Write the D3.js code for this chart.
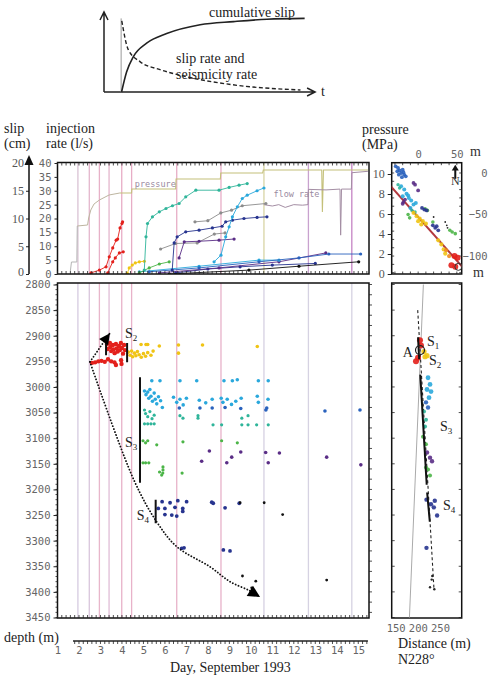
<!DOCTYPE html>
<html>
<head>
<meta charset="utf-8">
<script src="https://cdn.jsdelivr.net/npm/d3@7"></script>
<style>
  body { margin: 0; background: #fff; }
  svg { display: block; }
</style>
</head>
<body>
<div id="chart"></div>
<script>
// ---------- data ----------
// schematic: [time, normalised value]
const cumSlip = [[0.84,0],[1.08,0.25],[1.4,0.44],[2.04,0.61],[3.0,0.73],[4.6,0.84],[6.2,0.88],[7.8,0.91],[9.6,0.92]];
const slipRate = [[0.85,0.89],[1.16,0.53],[1.72,0.38],[2.68,0.28],[3.96,0.19],[6.17,0.09],[9.4,0.025]];

// days of injection changes (vertical lines)
const markerDays = [1.95, 2.48, 2.95, 3.40, 3.99, 4.45, 6.55, 8.61, 10.61, 12.68, 14.70];

// wellhead pressure (MPa) and flow rate (l/s)
const pressureDays = [1.6,1.65,1.9,1.92,2.4,2.45,2.55,2.7,2.95,3.4,3.9,4.45,4.46,6.5,6.52,8.58,8.6,10.55,10.58,13.3,13.33,13.38,15.45];
const pressureMPa  = [0.3,1.2,1.2,4.8,4.9,5.6,6.4,7.0,7.4,7.9,8.1,8.1,8.5,8.5,9.5,9.5,10.1,10.1,10.4,10.4,6.2,10.4,10.4];
const flowDays = [10.6,11.0,11.3,11.6,12.0,12.4,12.66,12.68,13.5,14.15,14.18,14.22,14.68,14.7,15.45];
const flowRate = [25,24.5,25,24,25,24.8,25,30.5,30.3,30.6,14,30.6,30.6,36.5,37];

// cumulative slip of event families: [day, slip cm]
const slipRed1 = [[2.56,0.2],[2.95,0.7],[3.26,1.3],[3.41,3.1],[3.57,4.7],[3.73,6.1],[3.8,6.3],[3.91,8.3],[4.0,9.1],[4.03,9.4]];
const slipRed2 = [[3.34,0.2],[3.57,2.2],[3.69,2.9],[3.88,3.8],[4.06,4.0]];
const slipYellow = [[4.25,0.1],[4.34,1.1],[4.48,1.6],[4.62,2.0],[4.81,2.2],[5.04,2.3]];
const slipGreen = [[4.81,0.2],[5.27,1.1],[5.74,1.8],[6.2,2.2]];
const slipTeal = [[5.04,0.7],[5.12,6.7],[5.19,9.1],[5.42,10.3],[5.74,11.2],[6.05,11.8],[6.35,12.3],[6.66,12.7],[6.97,13.9],[7.44,15.1],[8.52,15.1],[8.99,15.6],[9.45,16.0],[9.83,16.3]];
const slipCyan = [[8.29,2.2],[8.61,3.4],[8.83,6.7],[8.99,8.5],[9.14,10.3],[9.37,12.1],[9.6,13.6],[9.83,14.2],[10.29,15.0],[10.61,15.5]];
const slipBlue = [[6.34,0.7],[6.43,5.6],[6.57,6.7],[6.97,7.6],[7.59,7.9],[8.21,8.3],[8.66,8.6],[8.83,9.4],[9.14,9.7],[9.68,10.0],[10.29,10.2],[10.75,10.3]];
const slipPurple = [[6.66,2.9],[6.9,5.8],[7.59,5.9],[8.52,6.1],[9.22,6.3]];
const slipGrayA = [[7.4,9.4],[8.0,9.6],[8.6,11.0],[9.1,11.5],[9.6,12.3],[10.7,12.7]];
const slipGrayB = [[5.8,4.5],[6.5,5.5],[7.5,5.6],[8.3,7.2],[8.8,7.4]];
const slipLow1 = [[5.27,0.4],[7.59,1.1],[10.38,2.2],[12.24,2.9],[13.63,3.6],[15.11,3.6]];
const slipLow2 = [[5.74,0.2],[8.52,1.1],[11.31,2.2],[13.49,3.8]];
const slipLow3 = [[6.2,0],[9.91,0.7],[12.24,1.4],[15.02,2.2]];
const slipLow4 = [[4.81,0.4],[7.59,1.4],[10.38,2.5],[11.31,2.5]];
const slipLow5 = [[6.5,0.2],[8.0,0.9],[9.5,1.3],[11.0,1.6],[13.0,1.9]];

// seismic events, [day, depth m]
const evRed = [[3.30,2916],[3.33,2926],[3.44,2914],[3.46,2922],[3.5,2930],[3.58,2918],[3.6,2927],[3.66,2934],[3.72,2916],[3.75,2925],[3.8,2931],[3.86,2920],[3.9,2928],[3.95,2914],[4.0,2924],[4.05,2935],[4.1,2918],[4.14,2928],
  [2.6,2953],[2.75,2952],[2.9,2950],[3.05,2949],[3.2,2951],[3.35,2946],[3.5,2950],[3.65,2952],[3.72,2957],[3.98,2955],[3.96,2948]];
const evYellow = [[4.3,2932],[4.38,2938],[4.45,2930],[4.5,2941],[4.58,2934],[4.65,2939],[4.72,2931],[4.8,2937],[4.9,2942],[5.0,2935],[5.1,2940],[5.2,2933],[5.35,2938],[5.45,2930],
  [4.89,2917],[5.12,2917],[5.74,2920],[6.63,2918],[6.63,2934],[7.75,2918],[10.3,2921],[5.2,2917]];
const evCyan = [[5.39,2988],[5.77,2988],[6.70,2988],[7.48,2988],[8.75,2988],[9.14,2988],[9.37,2986],[10.35,2988],[10.81,2988],
  [5.05,3008],[5.12,3015],[5.2,3010],[5.25,3022],[5.3,3005],[5.35,3018],[5.42,3028],[5.5,3012],[5.55,3024],[5.62,3033],[5.7,3019],[5.8,3027],[5.88,3040],
  [6.4,3020],[6.55,3030],[6.7,3024],[6.85,3035],[7.0,3022],[7.6,3026],[7.9,3031],[8.2,3024],[8.62,3022],[8.7,3030],[8.9,3024],[9.1,3034],[9.3,3028],[9.55,3022],[10.3,3018],[10.35,3030],[10.8,3024]];
const evBlue = [[6.67,3041],[7.63,3041],[8.2,3041],[8.8,3040],[9.53,3042],[10.74,3041],[10.7,3045],[13.45,3047],[15.08,3045]];
const evTeal = [[5.05,3072],[5.2,3072],[5.35,3072],[5.5,3072],[6.7,3056],[6.84,3061],[7.54,3056],[7.54,3061],[8.24,3074],[8.64,3074],[9.58,3061],[9.58,3074],[9.87,3056],[9.87,3074],[10.27,3074],[10.81,3074],
  [5.05,3045],[5.1,3052],[5.2,3058],[5.3,3048],[5.4,3062],[5.5,3055]];
const evGreen = [[4.98,3105],[5.1,3109],[5.2,3105],[5.62,3113],[6.84,3107],[8.64,3105],[9.37,3109],[4.98,3148],[5.1,3148],[5.25,3148],[5.91,3156],[5.91,3162],[5.9,3168],[5.85,3172],[6.8,3168],[5.75,3166]];
const evPurple = [[7.71,3145],[8.07,3125],[8.88,3148],[9.11,3137],[9.53,3127],[10.69,3128],[10.81,3148],[11.33,3129],[13.53,3137],[15.12,3152]];
const evNavy = [[5.87,3224],[6.24,3226],[6.60,3222],[7.01,3224],[5.69,3237],[6.0,3237],[6.47,3235],[6.83,3237],[6.0,3249],[6.32,3250],[6.55,3252],[6.83,3243],
  [8.18,3225],[8.25,3227],[8.80,3236],[9.46,3227],[6.78,3315],[6.89,3314],[8.72,3318],[9.03,3320]];
const evBlack = [[9.50,3226],[10.62,3226],[11.48,3249],[9.61,3369],[10.23,3379],[10.04,3392],[13.53,3377]];

// migration arrows and segment bars, [day, depth]
const arrowUp = [[2.51,2951],[3.44,2895]];
const arrowDown = [[2.51,2951],[4.56,3182],[5.63,3264],[6.56,3312],[8.10,3351],[9.03,3380],[9.96,3398],[10.43,3410]];
const barsMain = [[3.26,2914,2938],[4.24,2914,2952],[4.84,2981,3187],[5.57,3220,3266]];
const labelsMain = [['2',4.14,2904],['3',4.14,3117],['4',4.69,3259]];

// map view, [east m, north m]
const mapBlue = [[-29,8],[-26,6],[-24,3],[-20,4],[-22,0],[-18,-2],[-16,-4],[-25,-2],[-21,-5],[-27,2],[-19,1]];
const mapPurple = [[-6,-12],[-4,-14],[0,-21],[-19,-35],[-17,-32],[-20,-37]];
const mapCyan = [[-22,-16],[-18,-20],[-15,-25],[-20,-28],[-13,-27],[-9,-33],[-6,-38],[-10,-42],[-3,-36],[-12,-30]];
const mapTeal = [[-26,-14],[-24,-18],[-8,-45],[-4,-47]];
const mapGreen = [[-13,-50],[-11,-54],[9,-43],[12,-45],[19,-59],[41,-69],[44,-71],[48,-73]];
const mapNavy = [[5,-42],[8,-44],[11,-45],[19,-63],[22,-66],[26,-69],[24,-64]];
const mapYellow = [[-6,-48],[-2,-52],[2,-55],[6,-58],[10,-61],[0,-58],[4,-62],[26,-81],[30,-86],[33,-92],[35,-97]];
const mapOrange = [[36,-93],[40,-100]];
const mapRed = [[47,-100],[51,-102],[43,-111],[48,-113]];
const mapBlack = [[35,-59],[37,-63],[38,-66],[20,-53]];
const mapFault = [[-40,-11],[62,-118]];

// cross-section, [distance m, depth m]
const secRed = [[204.9,2909],[207.1,2919],[195.8,2950],[200.4,2943]];
const secYellow = [[213.9,2931],[220.7,2939],[216.2,2941]];
const secCyan = [[223,2982],[227.5,2995],[229.7,3009],[225.2,3021],[220.7,3005]];
const secBlue = [[218.4,3030],[223,3040]];
const secTeal = [[213.9,3048],[218.4,3064],[216.2,3077]];
const secGreen = [[211.7,3097],[218.4,3112],[223,3161],[227.5,3173],[218.4,3157]];
const secPurple = [[220.7,3128],[227.5,3138],[232,3145]];
const secNavy = [[219.5,3220],[238.3,3222],[236.1,3235],[243.5,3251],[219.5,3314],[229.7,3229]];
const secBlack = [[232.6,3369],[231.3,3376],[227.5,3391],[237.2,3395]];
const secGray = [[212.5,2800],[181,3450]];
const secDashed = [[199.7,2850],[236.5,3396]];
const secSolid = [[[200.5,2903],[203,2946]],[[205.5,2976],[220,3191]],[[221,3206],[227,3263]]];
const secLabels = [['S','1',220.7,2920],['A','',166,2941],['S','2',225.2,2957],['S','3',250,3086],['S','4',256.8,3240]];
const secCircle = [204.9,2928];

// ---------- drawing ----------
const W = 493, H = 676;
const serif = 'Liberation Serif';
const mono = 'DejaVu Sans Mono';
const C = { red:'#e3201b', orange:'#f08a1c', yellow:'#f0c414', green:'#4cb548', teal:'#2fb59a',
  cyan:'#2aa8dc', blue:'#2a62bd', navy:'#27348f', purple:'#5a2d86', black:'#111', gray:'#9a9a9a' };

const svg = d3.select('#chart').append('svg').attr('width', W).attr('height', H);

// schematic at top
const sx = d3.scaleLinear().domain([0, 10]).range([104, 313]);
const sy = d3.scaleLinear().domain([0, 1]).range([92, 12]);
const sch = svg.append('g').attr('fill', 'none').attr('stroke', '#222');
sch.append('path').attr('stroke-width', 1.5).attr('d', `M${sx(0)},${sy(0)}V${sy(1)}M${sx(0)-4},${sy(1)+8}L${sx(0)},${sy(1)}L${sx(0)+4},${sy(1)+8}`);
sch.append('path').attr('stroke-width', 1.5).attr('d', `M${sx(0)},${sy(0)}H${sx(10.1)}M${sx(10.1)-8},${sy(0)-4}L${sx(10.1)},${sy(0)}L${sx(10.1)-8},${sy(0)+4}`);
sch.append('line').attr('x1', sx(0.82)).attr('x2', sx(0.82)).attr('y1', sy(0)).attr('y2', sy(0.92))
  .attr('stroke', '#999').attr('stroke-width', 1);
const sLine = d3.line().x(d => sx(d[0])).y(d => sy(d[1])).curve(d3.curveMonotoneX);
sch.append('path').attr('d', sLine(cumSlip)).attr('stroke-width', 1.6);
sch.append('path').attr('d', sLine(slipRate)).attr('stroke-width', 1.4).attr('stroke-dasharray', '4,2.5');
const schText = [['cumulative slip', 209, 17], ['slip rate and', 176, 63], ['seismicity rate', 176, 79], ['t', 321, 96]];
svg.selectAll('.stext').data(schText).join('text')
  .attr('x', d => d[1]).attr('y', d => d[2]).text(d => d[0])
  .style('font-family', serif).attr('font-size', 14).attr('fill', '#222');

// scales for main panels
const x = d3.scaleLinear().domain([1, 15.5]).range([57.5, 369]);
const yRate = d3.scaleLinear().domain([0, 40]).range([274, 163]);
const ySlip = d3.scaleLinear().domain([0, 20]).range([274, 163]);
const yP = d3.scaleLinear().domain([0, 10]).range([274, 174]);
const yD = d3.scaleLinear().domain([2800, 3450]).range([284.5, 617.5]);
const mx = d3.scaleLinear().domain([-34.2, 56.3]).range([391.7, 461.7]);
const my = d3.scaleLinear().domain([12.4, -121.6]).range([162.7, 274]);
const xDist = d3.scaleLinear().domain([141, 299]).range([391.7, 461.7]);

const defs = svg.append('defs');
defs.append('clipPath').attr('id', 'clipTop').append('rect').attr('x', 57.5).attr('y', 162.5).attr('width', 311.5).attr('height', 111.5);
defs.append('clipPath').attr('id', 'clipBot').append('rect').attr('x', 57.5).attr('y', 283).attr('width', 311.5).attr('height', 335);
defs.append('clipPath').attr('id', 'clipMap').append('rect').attr('x', 391.7).attr('y', 162.7).attr('width', 70).attr('height', 111.3);
defs.append('clipPath').attr('id', 'clipSec').append('rect').attr('x', 391.7).attr('y', 283).attr('width', 70).attr('height', 335);

// axis labels
const heads = [['slip', 4, 133], ['(cm)', 4, 148], ['injection', 46, 133], ['rate (l/s)', 46, 148],
  ['pressure', 362, 134], ['(MPa)', 362, 149], ['depth (m)', 4, 642], ['Day, September 1993', 170, 672],
  ['Distance (m)', 398, 648], ['N228°', 398, 664]];
svg.selectAll('.head').data(heads).join('text')
  .attr('x', d => d[1]).attr('y', d => d[2]).text(d => d[0])
  .style('font-family', serif).attr('font-size', 14).attr('fill', '#222');

// vertical marker lines
const topCol = ['#d9c3d4','#e4b6cc','#e7b1c8','#e4b6cc','#e7adc6','#e7adc6','#e7adc6','#e7adc6','#d8d4a4','#c9a2cf','#c584c4'];
const botCol = ['#d6cbe0','#d9c6dc','#e8b6cb','#e0bdd6','#e8b2c9','#e8b2c9','#e8b2c9','#e8b2c9','#d6d0e2','#d6d2e2','#d6d2e2'];
svg.append('g').selectAll('line').data(markerDays).join('line')
  .attr('x1', d => x(d)).attr('x2', d => x(d)).attr('y1', 163).attr('y2', 274)
  .attr('stroke', (d, i) => topCol[i]).attr('stroke-width', 1.3);
svg.append('g').selectAll('line').data(markerDays).join('line')
  .attr('x1', d => x(d)).attr('x2', d => x(d)).attr('y1', 283).attr('y2', 618)
  .attr('stroke', (d, i) => botCol[i]).attr('stroke-width', 1.3);

// top panel content
const gTop = svg.append('g').attr('clip-path', 'url(#clipTop)');
const pLine = d3.line().x(d => x(d[0])).y(d => yP(d[1]));
gTop.append('path').attr('d', pLine(pressureDays.slice(0, 4).map((d, i) => [d, pressureMPa[i]])))
  .attr('fill', 'none').attr('stroke', '#b5b5b5').attr('stroke-width', 1);
gTop.append('path').attr('d', pLine(pressureDays.slice(3, 11).map((d, i) => [d, pressureMPa[i + 3]])))
  .attr('fill', 'none').attr('stroke', '#bdb5a0').attr('stroke-width', 1);
gTop.append('path').attr('d', pLine(pressureDays.slice(10).map((d, i) => [d, pressureMPa[i + 10]])))
  .attr('fill', 'none').attr('stroke', '#c4c07a').attr('stroke-width', 1.1);
const fLine = d3.line().x(d => x(d[0])).y(d => yRate(d[1]));
gTop.append('path').attr('d', fLine(flowDays.map((d, i) => [d, flowRate[i]])))
  .attr('fill', 'none').attr('stroke', '#a48ea4').attr('stroke-width', 1);
gTop.append('text').attr('x', x(4.6)).attr('y', yP(8.75)).text('pressure')
  .style('font-family', mono).attr('font-size', 8.5).attr('fill', '#9a8aa0');
gTop.append('text').attr('x', x(11.05)).attr('y', yRate(27.6)).text('flow rate')
  .style('font-family', mono).attr('font-size', 8.5).attr('fill', '#9a8aa0');

const sLineTop = d3.line().x(d => x(d[0])).y(d => ySlip(d[1]));
const slipSets = [[slipGrayA, '#8c8c8c'], [slipGrayB, '#8c8c8c'], [slipLow5, C.navy], [slipLow3, C.black], [slipLow2, C.purple],
  [slipLow4, C.cyan], [slipLow1, C.blue], [slipGreen, C.green], [slipYellow, C.yellow], [slipPurple, C.purple],
  [slipBlue, C.navy], [slipCyan, C.cyan], [slipTeal, C.teal], [slipRed2, C.red], [slipRed1, C.red]];
slipSets.forEach(([pts, col]) => {
  gTop.append('path').attr('d', sLineTop(pts))
    .attr('fill', 'none').attr('stroke', col).attr('stroke-width', 1).attr('opacity', 0.9);
  gTop.selectAll(null).data(pts).join('circle')
    .attr('cx', d => x(d[0])).attr('cy', d => ySlip(d[1])).attr('r', 1.6).attr('fill', col);
});

// bottom panel content
const gBot = svg.append('g').attr('clip-path', 'url(#clipBot)');
const evSets = [[evYellow, C.yellow, 1.8], [evCyan, C.cyan, 1.8], [evTeal, C.teal, 1.6], [evGreen, C.green, 1.6],
  [evBlue, C.blue, 1.8], [evPurple, C.purple, 1.8], [evNavy, C.navy, 1.9], [evBlack, C.black, 1.4], [evRed, C.red, 2.2]];
evSets.forEach(([pts, col, r]) => {
  gBot.selectAll(null).data(pts).join('circle')
    .attr('cx', d => x(d[0])).attr('cy', d => yD(d[1])).attr('r', r).attr('fill', col);
});

const dLine = d3.line().x(d => x(d[0])).y(d => yD(d[1]));
function arrowHead(g, p0, p1, size) {
  const a = Math.atan2(p1[1] - p0[1], p1[0] - p0[0]);
  const pts = [[0, 0], [-size, -size * 0.5], [-size, size * 0.5]].map(([u, v]) =>
    [p1[0] + u * Math.cos(a) - v * Math.sin(a), p1[1] + u * Math.sin(a) + v * Math.cos(a)]);
  g.append('path').attr('d', 'M' + pts.join('L') + 'Z').attr('fill', '#000');
}
gBot.append('path').attr('d', dLine(arrowUp)).attr('fill', 'none').attr('stroke', '#111')
  .attr('stroke-width', 1.8).attr('stroke-dasharray', '0.1,3').attr('stroke-linecap', 'round');
gBot.append('path').attr('d', dLine.curve(d3.curveCatmullRom)(arrowDown)).attr('fill', 'none').attr('stroke', '#111')
  .attr('stroke-width', 1.8).attr('stroke-dasharray', '0.1,3').attr('stroke-linecap', 'round');
const px = d => [x(d[0]), yD(d[1])];
arrowHead(svg, px(arrowUp[0]), px(arrowUp[1]), 11);
arrowHead(svg, px(arrowDown[arrowDown.length - 2]), px(arrowDown[arrowDown.length - 1]), 12);

gBot.selectAll('.bar').data(barsMain).join('line')
  .attr('x1', d => x(d[0])).attr('x2', d => x(d[0])).attr('y1', d => yD(d[1])).attr('y2', d => yD(d[2]))
  .attr('stroke', '#111').attr('stroke-width', 2);
const sLab = svg.append('g').style('font-family', serif).attr('fill', '#222');
labelsMain.forEach(([s, d, z]) => {
  const t = sLab.append('text').attr('x', x(d)).attr('y', yD(z)).attr('font-size', 14).text('S');
  t.append('tspan').attr('font-size', 9).attr('dy', 3).text(s);
});

// frames and axes
const frameSty = g => g.attr('fill', 'none').attr('stroke', '#111').attr('stroke-width', 1.5);
svg.append('rect').attr('x', 57.5).attr('y', 162.5).attr('width', 311.5).attr('height', 111.5).call(frameSty);
svg.append('rect').attr('x', 57.5).attr('y', 283).attr('width', 311.5).attr('height', 335).call(frameSty);
svg.append('rect').attr('x', 391.7).attr('y', 162.7).attr('width', 70).attr('height', 111.3).call(frameSty);
svg.append('rect').attr('x', 391.7).attr('y', 283).attr('width', 70).attr('height', 335).call(frameSty);

function ticks(vals, f, len) {
  svg.append('g').selectAll('line').data(vals).join('line')
    .each(function (v) { const [x1, y1, x2, y2] = f(v, len); d3.select(this).attr('x1', x1).attr('y1', y1).attr('x2', x2).attr('y2', y2); })
    .attr('stroke', '#222').attr('stroke-width', 0.8);
}
const dayMinor = d3.range(1, 15.45, 0.2);
ticks(dayMinor, (v, l) => [x(v), 162.5, x(v), 162.5 + l], 3);
ticks(dayMinor, (v, l) => [x(v), 274, x(v), 274 - l], 3);
ticks(dayMinor, (v, l) => [x(v), 618, x(v), 618 - l], 3);
ticks(d3.range(2800, 3451, 10), (v, l) => [57.5, yD(v), 57.5 - l, yD(v)], 2);
ticks(d3.range(2800, 3451, 20), (v, l) => [369, yD(v), 369 + l, yD(v)], 3);
ticks(d3.range(2800, 3451, 50), (v, l) => [391.7, yD(v), 391.7 + l, yD(v)], 3);
ticks(d3.range(2800, 3451, 50), (v, l) => [461.7, yD(v), 461.7 - l, yD(v)], 3);
ticks(d3.range(-30, 56, 10), (v, l) => [mx(v), 162.7, mx(v), 162.7 + l], 2.5);
ticks(d3.range(-30, 56, 10), (v, l) => [mx(v), 274, mx(v), 274 - l], 2.5);
ticks(d3.range(0, -121, -10), (v, l) => [391.7, my(v), 391.7 + l, my(v)], 2.5);
ticks(d3.range(0, -121, -10), (v, l) => [461.7, my(v), 461.7 - l, my(v)], 2.5);

function styleAxis(g, font, size, col) {
  g.select('.domain').remove();
  g.selectAll('.tick line').attr('stroke', '#222');
  g.selectAll('.tick text').style('font-family', font).attr('font-size', size).attr('fill', col);
}
svg.append('g').attr('transform', 'translate(57.5,0)')
  .call(d3.axisLeft(yRate).tickValues(d3.range(0, 41, 5)).tickSize(3).tickPadding(3))
  .call(g => styleAxis(g, mono, 10.5, '#666'));
svg.append('g').attr('transform', 'translate(57.5,0)')
  .call(d3.axisLeft(yD).tickValues(d3.range(2800, 3451, 50)).tickFormat(d3.format('d')).tickSize(4).tickPadding(3))
  .call(g => styleAxis(g, mono, 10.5, '#666'));
svg.append('g').attr('transform', 'translate(391.7,0)')
  .call(d3.axisLeft(yP).tickValues([0, 2, 4, 6, 8, 10]).tickSize(4).tickPadding(3))
  .call(g => styleAxis(g, serif, 12, '#555'));

// slip axis with arrow
const gSlip = svg.append('g').attr('transform', 'translate(29,0)')
  .call(d3.axisLeft(ySlip).tickValues([0, 5, 10, 15, 20]).tickSize(3).tickPadding(2))
  .call(g => styleAxis(g, serif, 12, '#555'));
gSlip.select('.tick text').attr('dy', '0.1em');
gSlip.append('line').attr('x1', 0).attr('x2', 0).attr('y1', ySlip(0)).attr('y2', ySlip(20) - 4).attr('stroke', '#111').attr('stroke-width', 1.5);
gSlip.append('path').attr('d', `M-4.5,${ySlip(20) + 2}L0,${ySlip(20) - 8}L4.5,${ySlip(20) + 2}Z`).attr('fill', '#111');

// day axis, drawn apart below the panel
const gDay = svg.append('g').attr('transform', 'translate(0,641)')
  .call(d3.axisBottom(x).tickValues(d3.range(1, 16)).tickSize(0).tickPadding(6))
  .call(g => styleAxis(g, mono, 10.5, '#666'));
gDay.append('line').attr('x1', x(1.72)).attr('x2', x(15.45)).attr('stroke', '#222').attr('stroke-width', 1.5);
ticks(d3.range(1.8, 15.45, 0.2), (v, l) => [x(v), 641, x(v), 641 + l], 3);

// map view
const gMap = svg.append('g').attr('clip-path', 'url(#clipMap)');
gMap.append('line').attr('x1', mx(mapFault[0][0])).attr('y1', my(mapFault[0][1]))
  .attr('x2', mx(mapFault[1][0])).attr('y2', my(mapFault[1][1])).attr('stroke', '#b2383e').attr('stroke-width', 2);
const mapSets = [[mapBlue, C.blue, 1.9], [mapPurple, C.purple, 1.9], [mapCyan, C.cyan, 2], [mapTeal, C.teal, 1.7],
  [mapGreen, C.green, 1.8], [mapNavy, C.navy, 1.9], [mapYellow, C.yellow, 2.1], [mapOrange, C.orange, 2.1],
  [mapBlack, C.black, 0.9], [mapRed, C.red, 3]];
mapSets.forEach(([pts, col, r]) => {
  gMap.selectAll(null).data(pts).join('circle')
    .attr('cx', d => mx(d[0])).attr('cy', d => my(d[1])).attr('r', r).attr('fill', col).attr('opacity', 0.9);
});
gMap.append('circle').attr('cx', mx(52)).attr('cy', my(-113)).attr('r', 3.5).attr('fill', 'none').attr('stroke', '#333');
svg.append('path').attr('d', `M${mx(48)},${my(-7)}V${my(5)}`).attr('stroke', '#111').attr('stroke-width', 2);
svg.append('path').attr('d', `M${mx(48) - 3.5},${my(3)}L${mx(48)},${my(10)}L${mx(48) + 3.5},${my(3)}Z`).attr('fill', '#111');
svg.append('text').attr('x', mx(48)).attr('y', my(-15)).attr('text-anchor', 'middle').text('N')
  .style('font-family', serif).attr('font-size', 12).attr('fill', '#333');
svg.append('g').attr('transform', 'translate(0,162.7)')
  .call(d3.axisTop(mx).tickValues([0, 50]).tickSize(0).tickPadding(5))
  .call(g => styleAxis(g, mono, 10.5, '#666'));
svg.append('g').attr('transform', 'translate(461.7,0)')
  .call(d3.axisRight(my).tickValues([0, -50, -100]).tickSize(0).tickPadding(26))
  .call(g => styleAxis(g, mono, 10.5, '#666'))
  .call(g => g.selectAll('.tick text').attr('text-anchor', 'end'));
svg.append('text').attr('x', 470).attr('y', 156).text('m').style('font-family', serif).attr('font-size', 14).attr('fill', '#333');
svg.append('text').attr('x', 473).attr('y', 277).text('m').style('font-family', serif).attr('font-size', 14).attr('fill', '#333');

// cross-section
const gSec = svg.append('g').attr('clip-path', 'url(#clipSec)');
const secLine = d3.line().x(d => xDist(d[0])).y(d => yD(d[1]));
gSec.append('path').attr('d', secLine(secGray)).attr('stroke', '#aaa').attr('stroke-width', 1);
gSec.append('path').attr('d', secLine(secDashed)).attr('stroke', '#222').attr('stroke-width', 1.1).attr('stroke-dasharray', '3,2.5');
const secSets = [[secCyan, C.cyan, 2.4], [secBlue, C.blue, 2.2], [secTeal, C.teal, 2], [secGreen, C.green, 2],
  [secPurple, C.purple, 2.2], [secNavy, C.navy, 2.2], [secBlack, C.black, 1.2], [secYellow, C.yellow, 2.6], [secRed, C.red, 3]];
secSets.forEach(([pts, col, r]) => {
  gSec.selectAll(null).data(pts).join('circle')
    .attr('cx', d => xDist(d[0])).attr('cy', d => yD(d[1])).attr('r', r).attr('fill', col).attr('opacity', 0.9);
});
secSolid.forEach(s => gSec.append('path').attr('d', secLine(s)).attr('stroke', '#111').attr('stroke-width', 2));
gSec.append('circle').attr('cx', xDist(secCircle[0])).attr('cy', yD(secCircle[1])).attr('r', 4.5)
  .attr('fill', 'none').attr('stroke', '#222').attr('stroke-width', 1.2);
secLabels.forEach(([s, sub, d, z]) => {
  const t = svg.append('text').attr('x', xDist(d)).attr('y', yD(z)).style('font-family', serif)
    .attr('font-size', 14).attr('fill', '#222').text(s);
  if (sub) t.append('tspan').attr('font-size', 9).attr('dy', 3).text(sub);
});
svg.append('g').attr('transform', 'translate(0,618)')
  .call(d3.axisBottom(xDist).tickValues([150, 200, 250]).tickSize(0).tickPadding(7))
  .call(g => styleAxis(g, mono, 10.5, '#666'));
</script>
</body>
</html>
